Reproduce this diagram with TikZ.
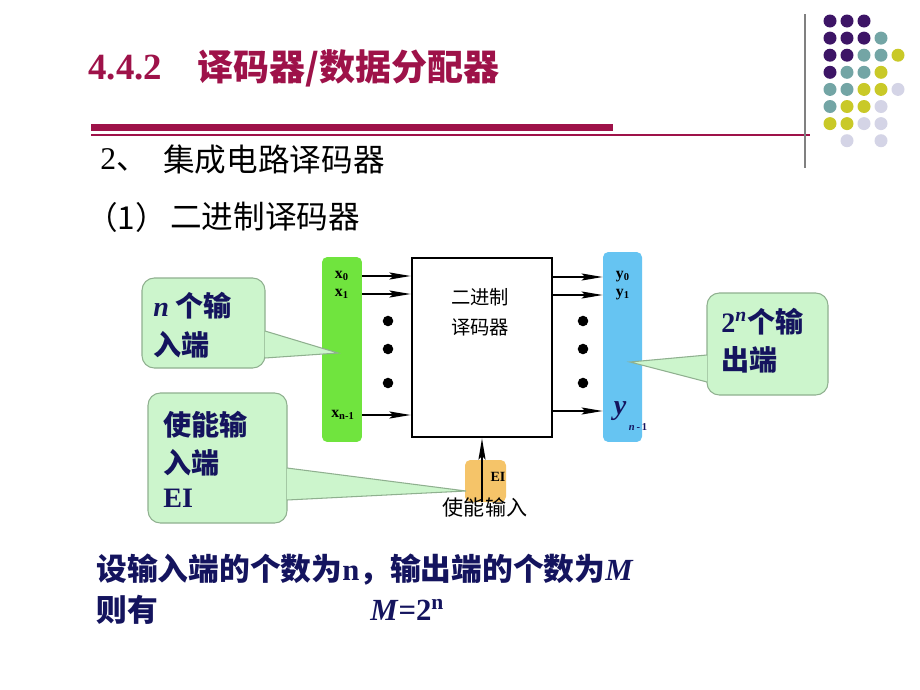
\documentclass[tikz,border=0pt]{standalone}
\usepackage{fontspec}
\setmainfont{Liberation Serif}
\newfontfamily\cjk{Noto Sans CJK SC}
\usetikzlibrary{arrows.meta}

\definecolor{titlered}{HTML}{9E1249}
\definecolor{navy}{HTML}{14145E}
\definecolor{inputgreen}{HTML}{70E43E}
\definecolor{outputblue}{HTML}{66C4F2}
\definecolor{enableorange}{HTML}{F5C469}
\definecolor{bubblefill}{HTML}{CCF5CC}
\definecolor{bubbleedge}{HTML}{8FB08F}
\definecolor{dotpurple}{HTML}{3D1566}
\definecolor{dotteal}{HTML}{73A5A5}
\definecolor{dotyellow}{HTML}{C9C928}
\definecolor{dotlilac}{HTML}{D4D4E6}

\begin{document}
\begin{tikzpicture}[x=0.02cm, y=-0.02cm,
    bubble/.style={fill=bubblefill, draw=bubbleedge, line width=0.6pt, rounded corners=7pt},
    bubbletext/.style={anchor=west, inner sep=0pt, text=navy, font=\fontsize{16}{16}\selectfont\bfseries\cjk},
    pin/.style={-{Stealth[length=12pt, width=4pt, inset=2pt]}, line width=0.8pt},
    port/.style={inner sep=0pt, font=\fontsize{9}{9}\selectfont\bfseries},
    bigdot/.style={circle, fill=black, inner sep=0pt, minimum size=6pt}]

    \useasboundingbox (0,0) rectangle (920,690);
    \fill[white] (0,0) rectangle (920,690);

    % Heading
    \node[anchor=west, inner sep=0pt, text=titlered, font=\fontsize{21}{21}\selectfont\bfseries] (num) at (88,68) {4.4.2};
    \node[anchor=west, inner sep=0pt, text=titlered, font=\fontsize{20.5}{20.5}\selectfont\bfseries\cjk] (title) at (197,68) {译码器/数据分配器};
    \fill[titlered] (91,124) rectangle (613,131);
    \draw[titlered, line width=1.1pt] (91,135) -- (810,135);
    \draw[gray, line width=0.6pt] (805,14) -- (805,168);

    % Dot grid
    \foreach \c/\r/\col in {0/0/dotpurple, 1/0/dotpurple, 2/0/dotpurple,
        0/1/dotpurple, 1/1/dotpurple, 2/1/dotpurple, 3/1/dotteal,
        0/2/dotpurple, 1/2/dotpurple, 2/2/dotteal, 3/2/dotteal, 4/2/dotyellow,
        0/3/dotpurple, 1/3/dotteal, 2/3/dotteal, 3/3/dotyellow,
        0/4/dotteal, 1/4/dotteal, 2/4/dotyellow, 3/4/dotyellow, 4/4/dotlilac,
        0/5/dotteal, 1/5/dotyellow, 2/5/dotyellow, 3/5/dotlilac,
        0/6/dotyellow, 1/6/dotyellow, 2/6/dotlilac, 3/6/dotlilac,
        1/7/dotlilac, 3/7/dotlilac}
        \fill[\col] (830+17*\c, 21+17.1*\r) circle (3.7pt);

    % Section headings
    \node[anchor=west, inner sep=0pt, font=\fontsize{18}{18}\selectfont] (sec) at (100,160) {2{\cjk 、}};
    \node[anchor=west, inner sep=0pt, font=\fontsize{18}{18}\selectfont\cjk] (sectext) at (163,160) {集成电路译码器};
    \node[anchor=west, inner sep=0pt, font=\fontsize{18}{18}\selectfont\cjk] (sub) at (86,217) {（1）};
    \node[anchor=west, inner sep=0pt, font=\fontsize{18}{18}\selectfont\cjk] (subtext) at (170,217) {二进制译码器};

    % Input bar, decoder, output bar
    \node[fill=inputgreen, rounded corners=3pt, minimum width=0.8cm, minimum height=3.7cm, inner sep=0pt] (inbar) at (342,349.5) {};
    \node[draw, line width=1.6pt, minimum width=2.8cm, minimum height=3.58cm, inner sep=0pt] (dec) at (482,347.5) {};
    \node[fill=outputblue, rounded corners=3pt, minimum width=0.78cm, minimum height=3.8cm, inner sep=0pt] (outbar) at (622.5,347) {};
    \node[inner sep=0pt, font=\fontsize{11}{11}\selectfont\cjk] (dec1) at (480,297) {二进制};
    \node[inner sep=0pt, font=\fontsize{11}{11}\selectfont\cjk] (dec2) at (480,327) {译码器};

    % Port labels
    \node[port] (x0) at (342,276) {x\textsubscript{0}};
    \node[port] (x1) at (342,294) {x\textsubscript{1}};
    \node[port] (xn) at (343,415) {x\textsubscript{n-1}};
    \node[port] (y0) at (623,277) {y\textsubscript{0}};
    \node[port] (y1) at (623,295) {y\textsubscript{1}};
    \node[inner sep=0pt, text=navy, font=\fontsize{16}{16}\selectfont\bfseries\itshape] (yn) at (620,411) {y};
    \node[inner sep=0pt, text=navy, font=\fontsize{6}{6}\selectfont\bfseries] (ynsub) at (638,427) {\textit{n}\,-\,1};

    % Input and output lines
    \foreach \p in {x0, x1, xn}
        \draw[pin] (inbar.east |- \p) -- (dec.west |- \p);
    \foreach \p in {y0, y1, yn}
        \draw[pin] (dec.east |- \p) -- (outbar.west |- \p);

    % Dots
    \foreach \y [count=\i] in {321, 349, 383} {
        \node[bigdot] (ldot\i) at (388,\y) {};
        \node[bigdot] (rdot\i) at (583,\y) {};
    }

    % Enable input
    \node[fill=enableorange, rounded corners=3pt, minimum width=0.82cm, minimum height=0.84cm, inner sep=0pt] (enbox) at (485.5,481) {};
    \node[inner sep=0pt, font=\fontsize{8}{8}\selectfont\bfseries] (ei) at (498,477) {EI};
    \draw[pin] (dec.south |- enbox.south) -- (dec.south);
    \node[inner sep=0pt, font=\fontsize{12}{12}\selectfont\cjk] (entext) at (485,507) {使能输入};

    % Callout: n inputs
    \draw[bubble] (142,278) rectangle (265,368);
    \fill[bubblefill] (265,331) -- (338,353) -- (265,358) -- cycle;
    \draw[bubbleedge, line width=0.6pt] (265,331) -- (338,353) -- (265,358);
    \node[bubbletext] (inl1) at (153,306) {{\rmfamily\bfseries\itshape n} 个输};
    \node[bubbletext] (inl2) at (153,345) {入端};

    % Callout: 2^n outputs
    \draw[bubble] (707,293) rectangle (828,395);
    \fill[bubblefill] (707,355) -- (630,362) -- (707,382) -- cycle;
    \draw[bubbleedge, line width=0.6pt] (707,355) -- (630,362) -- (707,382);
    \node[bubbletext] (outl1) at (721,322) {{\rmfamily\bfseries 2\textsuperscript{\itshape n}}个输};
    \node[bubbletext] (outl2) at (721,360) {出端};

    % Callout: enable
    \draw[bubble] (148,393) rectangle (287,523);
    \fill[bubblefill] (287,468) -- (466,491) -- (287,500) -- cycle;
    \draw[bubbleedge, line width=0.6pt] (287,468) -- (466,491) -- (287,500);
    \node[bubbletext] (enl1) at (163,425) {使能输};
    \node[bubbletext] (enl2) at (163,463) {入端};
    \node[bubbletext] (enl3) at (163,498) {\rmfamily\bfseries EI};

    % Conclusion
    \node[anchor=west, inner sep=0pt, text=navy, font=\fontsize{17.5}{17.5}\selectfont\bfseries\cjk] (rel1) at (96,570) {设输入端的个数为{\rmfamily\bfseries n}，输出端的个数为{\rmfamily\bfseries\itshape M}};
    \node[anchor=west, inner sep=0pt, text=navy, font=\fontsize{17.5}{17.5}\selectfont\bfseries\cjk] (rel2) at (96,610) {则有};
    \node[anchor=west, inner sep=0pt, text=navy, font=\fontsize{17.5}{17.5}\selectfont\bfseries] (rel3) at (370,610) {\textit{M}=2\textsuperscript{n}};
\end{tikzpicture}
\end{document}
